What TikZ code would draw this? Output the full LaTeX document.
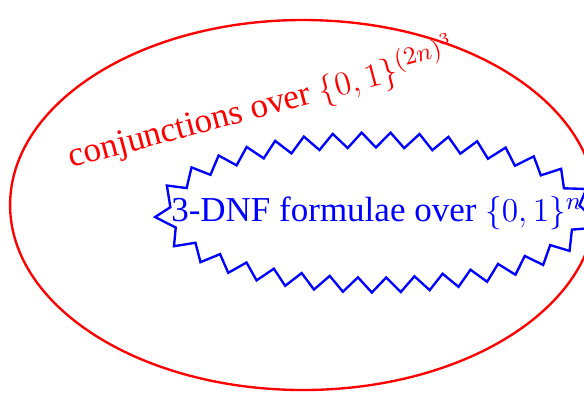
\documentclass[tikz,border=0pt]{standalone}
\usepackage[no-math]{fontspec}
\setmainfont{Liberation Serif}
\usetikzlibrary{shapes.geometric,decorations.pathmorphing}
\tikzset{
  txt/.style={font=\fontsize{12.6pt}{15pt}\selectfont, inner sep=0pt},
  outerset/.style={ellipse, draw=red, line width=0.85pt, inner sep=0pt},
  innerset/.style={ellipse, draw=blue, line width=0.85pt, inner sep=0pt,
    decorate, decoration={zigzag, segment length=10.3pt, amplitude=2.7pt}}
}
\begin{document}
\begin{tikzpicture}[x=0.36pt,y=-0.36pt]
\useasboundingbox (0,0) rectangle (584,396);
\node (outer) [outerset, minimum width=210.9pt, minimum height=133.2pt] at (303,205) {};
\node (inner) [innerset, minimum width=152.6pt, minimum height=52.2pt] at (375,212.5) {};
\node (innerlabel) [txt, blue] at (377,213) {3-DNF formulae over $\{0,1\}^n$};
\node (outerlabel) [txt, red, rotate=15] at (262,104) {conjunctions over $\{0,1\}^{(2n)^3}$};
\end{tikzpicture}
\end{document}
